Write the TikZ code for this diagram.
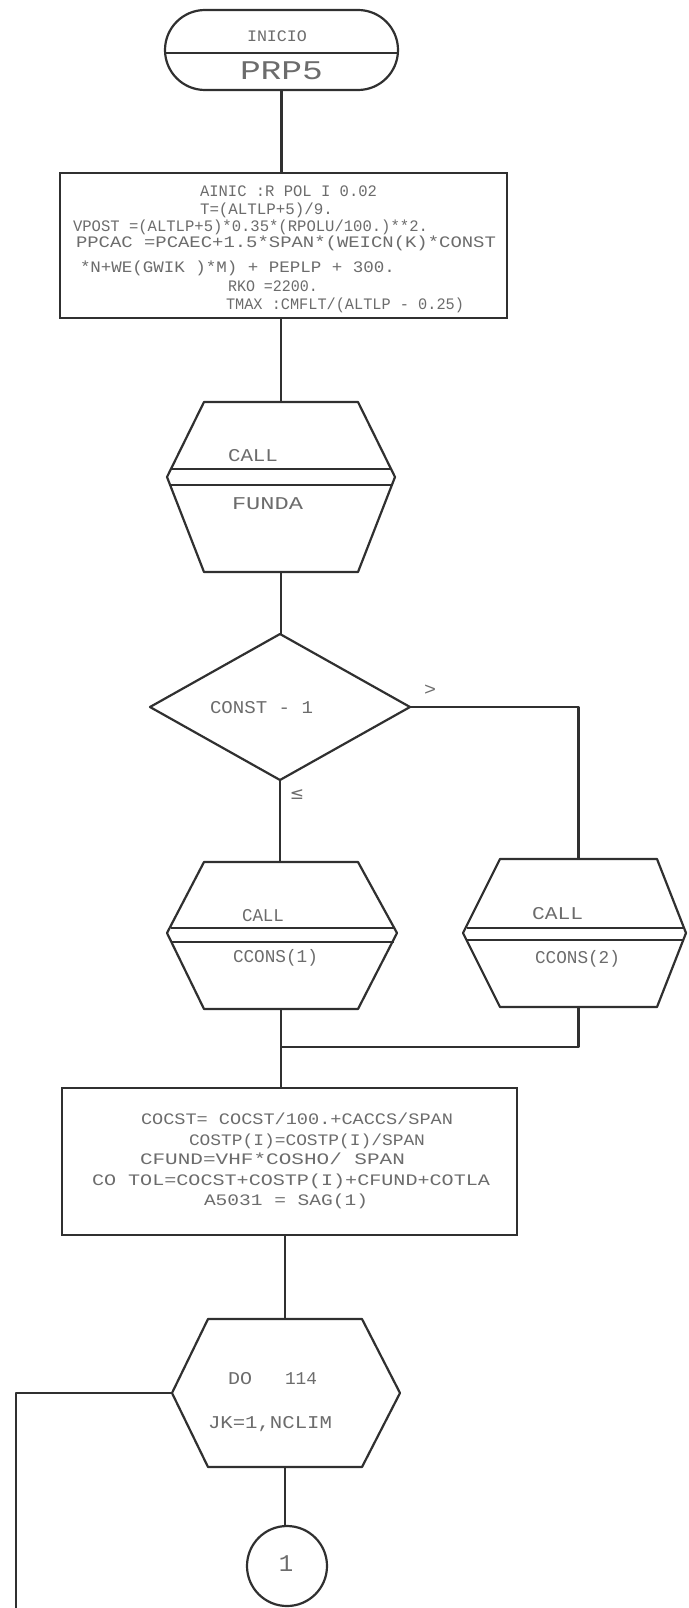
\documentclass[tikz,border=0pt]{standalone}
\usepackage{fontspec}
\setmonofont{Liberation Mono}
\newfontfamily\symfont{DejaVu Sans}
\usetikzlibrary{shapes.misc}
\definecolor{ink}{HTML}{303030}
\definecolor{lettering}{HTML}{6C6C6C}

% set a line of lettering to a given width (in pt) without changing its height
\newsavebox\fitbox
\newdimen\fitdim
\newcommand\fitto[2]{\sbox\fitbox{#2}\fitdim=\wd\fitbox
  \pgfmathsetmacro\fitfac{#1/\fitdim}\scalebox{\fitfac}[1]{\usebox\fitbox}}

% hexagonal call / loop symbol:
% #1 name, #2 left tip x, #3 top-left x, #4 top-right x, #5 right tip x,
% #6 top y, #7 waist y, #8 bottom y
\newcommand\hexa[8]{%
  \coordinate (#1n) at ({(#3+#4)/2},#6);
  \coordinate (#1s) at ({(#3+#4)/2},#8);
  \coordinate (#1w) at (#2,#7);
  \coordinate (#1e) at (#5,#7);
  \draw[flow] (#3,#6) -- (#4,#6) -- (#1e) -- (#4,#8) -- (#3,#8) -- (#1w) -- cycle;}
\newcommand\hexband[5]{% #1 left tip x, #2 right tip x, #3 waist y, #4 offset above, #5 offset below
  \draw[band] (#1+3.5,#3-#4) -- (#2-3.5,#3-#4);
  \draw[band] (#1+3.5,#3+#5) -- (#2-3.5,#3+#5);}

\begin{document}
\begin{tikzpicture}[x=1pt,y=-1pt,
  every node/.style={inner sep=0pt,outer sep=0pt},
  flow/.style={draw=ink,line width=2.2pt,line join=round},
  band/.style={draw=ink,line width=1.2pt},
  ln/.style={text=lettering,font=\ttfamily\fontsize{16}{16}\selectfont,
    anchor=west,text height=10.5pt,text depth=0pt},
  lg/.style={text=lettering,font=\ttfamily\fontsize{18}{18}\selectfont,
    anchor=west,text height=12pt,text depth=0pt},
]
\useasboundingbox[fill=white] (0,0) rectangle (688,1608);

% start terminal
\node[draw=ink,line width=2.2pt,rounded rectangle,minimum width=233pt,minimum height=80pt] (start) at (281.5,50) {};
\draw[band] (166,53) -- (397,53);
\node[ln] (tinicio) at (247,36) {\fitto{60}{INICIO}};
\node[text=lettering,font=\ttfamily\fontsize{27}{27}\selectfont,anchor=west,
  text height=18pt,text depth=0pt] (tprp) at (240,71) {\fitto{83}{PRP5}};

% first assignment block
\node[draw=ink,line width=2.2pt,minimum width=447pt,minimum height=145pt] (box1) at (283.5,245.5) {};
\node[ln] (a1) at (200,191) {\fitto{177}{AINIC :R POL I  0.02}};
\node[ln] (a2) at (200,209) {\fitto{133}{T=(ALTLP+5)/9.}};
\node[ln] (a3) at (73,226) {\fitto{355}{VPOST =(ALTLP+5)*0.35*(RPOLU/100.)**2.}};
\node[ln] (a4) at (76,242) {\fitto{420}{PPCAC =PCAEC+1.5*SPAN*(WEICN(K)*CONST}};
\node[ln] (a5) at (80,267) {\fitto{315}{*N+WE(GWIK )*M) + PEPLP + 300.}};
\node[ln] (a6) at (228,286) {\fitto{90}{RKO =2200.}};
\node[ln] (a7) at (226,304) {\fitto{238}{TMAX :CMFLT/(ALTLP - 0.25)}};

% CALL FUNDA
\hexa{h1}{167}{204}{358}{395}{402}{477}{572}
\hexband{167}{395}{477}{8}{8}
\node[lg] (h1a) at (228,455) {\fitto{50}{CALL}};
\node[lg] (h1b) at (232,503) {\fitto{71}{FUNDA}};

% decision
\node[minimum width=260pt,minimum height=146pt] (dec) at (280,707) {};
\draw[flow] (dec.north) -- (dec.east) -- (dec.south) -- (dec.west) -- cycle;
\node[lg] (dtext) at (210,707) {\fitto{103}{CONST - 1}};
\node[lg] (gt) at (424,689) {\fitto{12}{>}};
\node[text=lettering,font=\symfont\fontsize{17}{17}\selectfont] (le) at (297,795) {≤};

% CALL CCONS(1)
\hexa{h2}{167}{204}{358}{397}{862}{933}{1009}
\hexband{167}{397}{933}{5}{9}
\node[lg] (h2a) at (242,915) {\fitto{42}{CALL}};
\node[lg] (h2b) at (233,956) {\fitto{85}{CCONS(1)}};

% CALL CCONS(2)
\hexa{h3}{463}{500}{657}{686}{859}{933}{1007}
\hexband{463}{686}{933}{5}{7}
\node[lg] (h3a) at (532,913) {\fitto{51}{CALL}};
\node[lg] (h3b) at (535,957) {\fitto{85}{CCONS(2)}};

% second assignment block
\node[draw=ink,line width=2.2pt,minimum width=455pt,minimum height=147pt] (box2) at (289.5,1161.5) {};
\node[ln] (b1) at (141,1119) {\fitto{312}{COCST= COCST/100.+CACCS/SPAN}};
\node[ln] (b2) at (189,1140) {\fitto{236}{COSTP(I)=COSTP(I)/SPAN}};
\node[ln] (b3) at (140,1159) {\fitto{265}{CFUND=VHF*COSHO/ SPAN}};
\node[ln] (b4) at (92,1180) {\fitto{398}{CO TOL=COCST+COSTP(I)+CFUND+COTLA}};
\node[ln] (b5) at (204,1200) {\fitto{164}{A5031 = SAG(1)}};

% DO loop
\hexa{h4}{172}{208}{362}{400}{1319}{1393}{1467}
\node[lg] (h4a) at (228,1378) {\fitto{24}{DO}};
\node[lg] (h4b) at (285,1378) {\fitto{32}{114}};
\node[lg] (h4c) at (208,1422) {\fitto{124}{JK=1,NCLIM}};

% off-page connector
\node[draw=ink,line width=2.2pt,circle,minimum size=80pt] (con) at (287,1566) {};
\node[text=lettering,font=\ttfamily\fontsize{24}{24}\selectfont] (cone) at (286,1564) {1};

% flow lines
\coordinate (join) at (0,1047);
\coordinate (loopTop) at (16,1393);
\coordinate (loopEnd) at (16,1608);
\draw[flow] (start.south) -- (start.south |- box1.north);
\draw[flow] (box1.south -| h1n) -- (h1n);
\draw[flow] (h1s) -- (h1s |- dec.north);
\draw[flow] (dec.south) -- (dec.south |- h2n);
\draw[flow] (dec.east) -| (h3n);
\draw[flow] (h2s) -- (h2s |- box2.north);
\draw[flow] (h3s) |- (join -| h2s);
\draw[flow] (box2.south -| h4n) -- (h4n);
\draw[flow] (h4s) -- (h4s |- con.north);
\draw[flow] (h4w) -- (loopTop) -- (loopEnd);
\end{tikzpicture}
\end{document}
